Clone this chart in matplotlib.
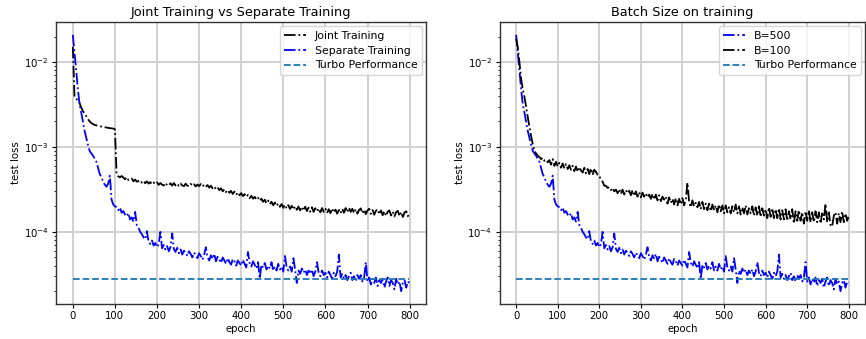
import numpy as np
import matplotlib
matplotlib.use("Agg")
import matplotlib.pyplot as plt

# values in units of 1e-5, sampled every 4 epochs (0..796) plus epoch 799
UNIT = 1e-5
joint_training = [
    1520, 390, 372, 352, 330, 292, 266, 248, 230, 213,
    200, 192, 186, 182, 180, 177, 176, 174, 173, 171,
    170, 168, 167, 166, 165, 162, 47.5, 45.0, 44.0, 45.5,
    43.8, 41.6, 44.2, 40.8, 41.8, 42.6, 39.4, 41.4, 39.0, 39.8,
    40.8, 38.0, 39.8, 37.4, 39.4, 37.0, 38.6, 36.4, 38.2, 36.6,
    38.4, 35.8, 37.6, 36.0, 35.2, 37.8, 35.4, 35.0, 37.4, 35.0,
    37.6, 35.2, 37.0, 34.8, 37.2, 35.2, 34.6, 37.0, 35.0, 34.6,
    36.8, 34.8, 36.4, 34.3, 36.2, 34.6, 36.6, 34.2, 35.9, 34.0,
    35.6, 33.2, 35.0, 32.6, 34.2, 31.9, 33.4, 31.0, 32.6, 30.0,
    31.8, 29.4, 31.1, 28.8, 30.4, 28.0, 29.8, 27.4, 29.2, 27.0,
    28.6, 26.4, 27.8, 25.8, 27.2, 25.0, 26.6, 24.6, 25.9, 24.0,
    25.2, 23.2, 24.6, 22.6, 23.9, 21.8, 23.4, 21.2, 22.6, 20.6,
    22.2, 20.2, 21.6, 19.7, 21.3, 19.2, 20.9, 18.9, 20.7, 18.6,
    20.3, 18.3, 20.0, 18.2, 19.9, 17.9, 19.7, 17.8, 19.8, 17.6,
    19.3, 17.3, 19.5, 17.2, 19.0, 17.4, 18.9, 17.0, 19.1, 17.2,
    18.7, 16.7, 18.5, 16.6, 18.9, 16.9, 18.3, 16.4, 18.1, 16.6,
    18.7, 16.8, 19.1, 17.0, 19.3, 17.2, 18.7, 16.6, 18.5, 16.4,
    18.1, 18.9, 16.5, 18.3, 16.2, 17.9, 18.7, 16.3, 18.1, 15.9,
    17.7, 18.5, 16.1, 17.9, 15.7, 17.5, 15.4, 17.3, 17.9, 15.6,
    17.3, 15.2, 17.1, 17.7, 15.3, 17.1, 15.0, 16.9, 17.5, 15.3,
    16.4,
]
separate_training = [
    2100, 1300, 800, 480, 320, 255, 200, 155, 128, 106,
    90, 84, 79, 73, 67, 57, 48, 44, 39, 36,
    34, 37, 46, 24, 21, 20, 19.5, 18.0, 19.4, 16.8,
    17.6, 16.0, 15.2, 16.6, 14.0, 14.8, 13.2, 17.2, 12.0, 11.2,
    10.0, 9.4, 8.6, 8.2, 10.2, 7.6, 7.2, 7.9, 6.9, 7.4,
    6.6, 7.2, 10.0, 6.4, 7.0, 6.2, 6.8, 5.9, 6.6, 9.6,
    6.3, 5.8, 6.5, 5.6, 6.2, 5.4, 6.0, 5.7, 5.2, 5.9,
    5.5, 5.0, 5.7, 5.3, 4.9, 5.6, 5.2, 4.7, 5.4, 6.6,
    5.0, 4.6, 5.3, 4.8, 5.5, 4.5, 5.1, 4.7, 4.3, 5.0,
    4.6, 4.2, 4.9, 4.4, 4.1, 4.8, 4.5, 4.0, 4.6, 4.3,
    4.0, 4.7, 4.2, 3.8, 5.8, 4.3, 3.9, 4.5, 4.1, 3.7,
    4.4, 2.8, 4.1, 3.8, 4.3, 3.6, 4.0, 3.7, 4.4, 3.5,
    3.9, 3.5, 4.2, 3.6, 3.9, 3.4, 5.2, 3.8, 3.5, 3.9,
    3.4, 4.9, 3.6, 2.5, 3.5, 3.2, 3.7, 3.3, 3.6, 3.1,
    3.5, 3.2, 3.6, 3.0, 3.4, 4.4, 3.3, 3.0, 3.5, 3.1,
    3.3, 2.9, 3.4, 3.1, 2.8, 3.3, 3.0, 3.4, 5.4, 2.9,
    3.2, 2.8, 3.1, 2.7, 3.0, 3.3, 2.7, 3.0, 2.6, 3.1,
    2.8, 3.1, 2.6, 2.9, 4.4, 2.6, 2.9, 2.4, 2.8, 2.5,
    2.9, 2.3, 2.7, 2.5, 2.8, 2.2, 2.6, 2.9, 2.3, 2.7,
    2.5, 2.1, 2.8, 2.4, 2.6, 2.0, 2.5, 2.7, 2.2, 2.6,
    2.5,
]
batch_500 = separate_training
batch_100 = [
    1900, 1500, 1000, 640, 480, 390, 300, 225, 175, 135,
    108, 90, 84, 79, 76, 72, 75, 69, 71, 66,
    70, 62, 72, 60, 67, 59, 65, 57, 64, 56,
    63, 55, 61, 54, 60, 52, 59, 51, 58, 53,
    50, 57, 49, 55, 48, 56, 47, 54, 51, 47,
    46, 41, 39, 35, 35, 33, 33.5, 31, 33, 30,
    31.5, 28.5, 32, 28, 31.5, 27.5, 31, 28.5, 30.5, 27,
    31, 26.5, 30, 26, 29.5, 25.5, 29, 26, 28.5, 25.5,
    27.5, 24.5, 28, 24, 27.5, 23.5, 27, 23, 26, 24,
    26, 21.5, 25.5, 22, 24.5, 21, 25, 20.5, 24.5, 21,
    25, 20.5, 24, 38, 22.5, 19.5, 23.5, 20, 22, 19.5,
    22.5, 18.5, 22.5, 18.5, 21.5, 18, 21.5, 17.5, 21, 18,
    20.5, 17, 21, 17.5, 20.5, 16.5, 20.5, 17, 19.5, 16.5,
    20, 17, 21, 16.5, 20, 16, 19.5, 16.5, 20.5, 16,
    19, 16.5, 20, 15.5, 19.5, 15.5, 20, 15, 19, 15.5,
    18.5, 14.5, 19.5, 15, 19, 14.5, 18.5, 14.5, 19, 14,
    18, 14, 18.5, 13.5, 17.5, 14, 18.5, 12.5, 17.5, 13.5,
    18, 13.5, 17, 12.5, 17.5, 13.5, 18, 13, 17, 13,
    17.5, 13, 17, 12.5, 16.5, 14, 21.5, 13, 17, 12,
    11.5, 15.5, 17, 12.5, 16.5, 13, 17.5, 13, 16.5, 13.5,
    15,
]
turbo_performance = 2.8  # x 1e-5
turbo_epochs = [0, 799]

for s in (joint_training, separate_training, batch_100):
    assert len(s) == 201, len(s)

epochs = [min(4 * i, 799) for i in range(201)]

plt.rcParams['font.family'] = ['DejaVu Sans']
fig = plt.figure(figsize=(8.66, 3.39), dpi=100)
W, H = 866, 339
ax1 = fig.add_axes([56 / W, (H - 304) / H, 370 / W, 282 / H])
ax2 = fig.add_axes([499.5 / W, (H - 304) / H, 365.5 / W, 282 / H])

FS = 7.3
LW = 1.3


def style(ax, title):
    ax.set_yscale('log')
    ax.grid(True, which='major', color='#d0d0d0', linewidth=1.4)
    ax.set_axisbelow(True)
    ax.set_title(title, fontsize=9.3, pad=4)
    ax.set_xlabel('epoch', fontsize=FS, labelpad=2)
    ax.set_ylabel('test loss', fontsize=FS, labelpad=2)
    ax.set_xticks(range(0, 801, 100))
    ax.tick_params(labelsize=FS, length=3, width=0.8, pad=2)
    ax.tick_params(which='minor', length=1.8, width=0.6)
    for sp in ax.spines.values():
        sp.set_linewidth(1.0)
        sp.set_color('#333333')


tline = [turbo_performance * UNIT] * 2

ax1.plot(epochs, np.array(joint_training) * UNIT, 'k-.', lw=LW, label='Joint Training')
ax1.plot(epochs, np.array(separate_training) * UNIT, 'b-.', lw=LW, label='Separate Training')
ax1.plot(turbo_epochs, tline, '--', color='#1f77b4', lw=LW, label='Turbo Performance')
style(ax1, 'Joint Training vs Separate Training')

ax2.plot(epochs, np.array(batch_500) * UNIT, 'b-.', lw=LW, label='B=500')
ax2.plot(epochs, np.array(batch_100) * UNIT, 'k-.', lw=LW, label='B=100')
ax2.plot(turbo_epochs, tline, '--', color='#1f77b4', lw=LW, label='Turbo Performance')
style(ax2, 'Batch Size on training')

for ax in (ax1, ax2):
    ax.legend(loc='upper right', fontsize=7.8, borderaxespad=0.4,
              handlelength=2.0, labelspacing=0.45, fancybox=True, framealpha=0.8)

fig.savefig('out.png', dpi=100)
